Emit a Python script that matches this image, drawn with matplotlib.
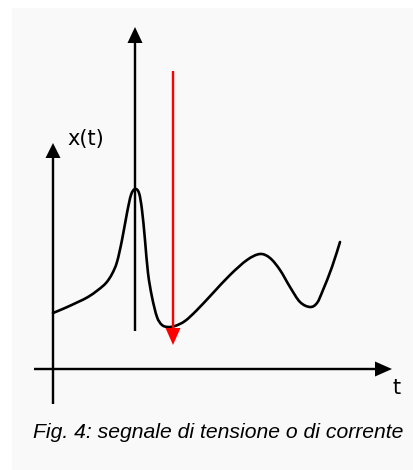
import matplotlib
matplotlib.use("Agg")
import matplotlib.pyplot as plt
from matplotlib.patches import Rectangle, PathPatch
from matplotlib.path import Path

# curva del segnale x(t) (origine = incrocio degli assi)
t_vals = [0, 12, 25, 35, 45, 53, 59, 64, 69, 74, 78, 82, 86, 89, 92, 95, 99, 104,
          109, 115, 122, 132, 144, 160, 177, 194, 207, 217, 227, 237, 247, 257,
          264, 270, 279, 287]
x_vals = [56, 61, 67, 72, 79, 86, 95, 107, 129, 156, 174, 180, 176, 159, 129, 96,
          72, 52, 44, 42, 43, 48, 59, 76, 94, 109, 115, 111, 99, 82, 67, 62, 66,
          79, 102, 127]

# impulso nero (verso l'alto) e freccia rossa (verso il basso)
impulse_t = 82
impulse_range = [38, 342]
red_t = 120
red_range = [298, 24]

axis_t_range = [-19, 339]
axis_x_range = [-35, 226]

ylabel = "x(t)"
xlabel = "t"
caption = "Fig. 4: segnale di tensione o di corrente"

fig = plt.figure(figsize=(4.13, 4.70), dpi=100, facecolor="white")
ax = fig.add_axes([0, 0, 1, 1])
ax.set_xlim(-53, 360)
ax.set_ylim(-101, 369)
ax.axis("off")

# sfondo grigio chiaro
ax.add_patch(Rectangle((-41, -101), 401, 462, facecolor="#f9f9f9", edgecolor="none", zorder=0))

# assi
ax.arrow(axis_t_range[0], 0, axis_t_range[1] - axis_t_range[0], 0, width=2.4,
         head_width=15, head_length=17, length_includes_head=True,
         color="black", lw=0, zorder=2)
ax.arrow(0, axis_x_range[0], 0, axis_x_range[1] - axis_x_range[0], width=2.4,
         head_width=15, head_length=15, length_includes_head=True,
         color="black", lw=0, zorder=2)

# impulso
ax.arrow(impulse_t, impulse_range[0], 0, impulse_range[1] - impulse_range[0], width=2.4,
         head_width=15, head_length=16, length_includes_head=True,
         color="black", lw=0, zorder=2)

# segnale: tratto curvo (Catmull-Rom -> Bezier cubiche) passante per i punti letti
pts = list(zip(t_vals, x_vals))
verts = [pts[0]]
codes = [Path.MOVETO]
for i in range(len(pts) - 1):
    p0 = pts[i - 1] if i > 0 else pts[i]
    p1 = pts[i]
    p2 = pts[i + 1]
    p3 = pts[i + 2] if i + 2 < len(pts) else pts[i + 1]
    c1 = (p1[0] + (p2[0] - p0[0]) / 6, p1[1] + (p2[1] - p0[1]) / 6)
    c2 = (p2[0] - (p3[0] - p1[0]) / 6, p2[1] - (p3[1] - p1[1]) / 6)
    verts += [c1, c2, p2]
    codes += [Path.CURVE4] * 3
ax.add_patch(PathPatch(Path(verts, codes), facecolor="none", edgecolor="black",
                       lw=1.9, capstyle="round", joinstyle="round", zorder=3))

# freccia rossa
ax.arrow(red_t, red_range[0], 0, red_range[1] - red_range[0], width=2.4,
         head_width=15, head_length=17, length_includes_head=True,
         color="#ff0000", lw=0, zorder=4)

ax.text(14, 230, ylabel, fontsize=15, family="DejaVu Sans", ha="left", va="center")
ax.text(344, -19, xlabel, fontsize=15, family="DejaVu Sans", ha="center", va="center")
ax.text(-20, -64, caption, fontsize=15.2, family="Liberation Sans", style="italic",
        ha="left", va="center")

fig.savefig("out.png", dpi=100, facecolor="white")
